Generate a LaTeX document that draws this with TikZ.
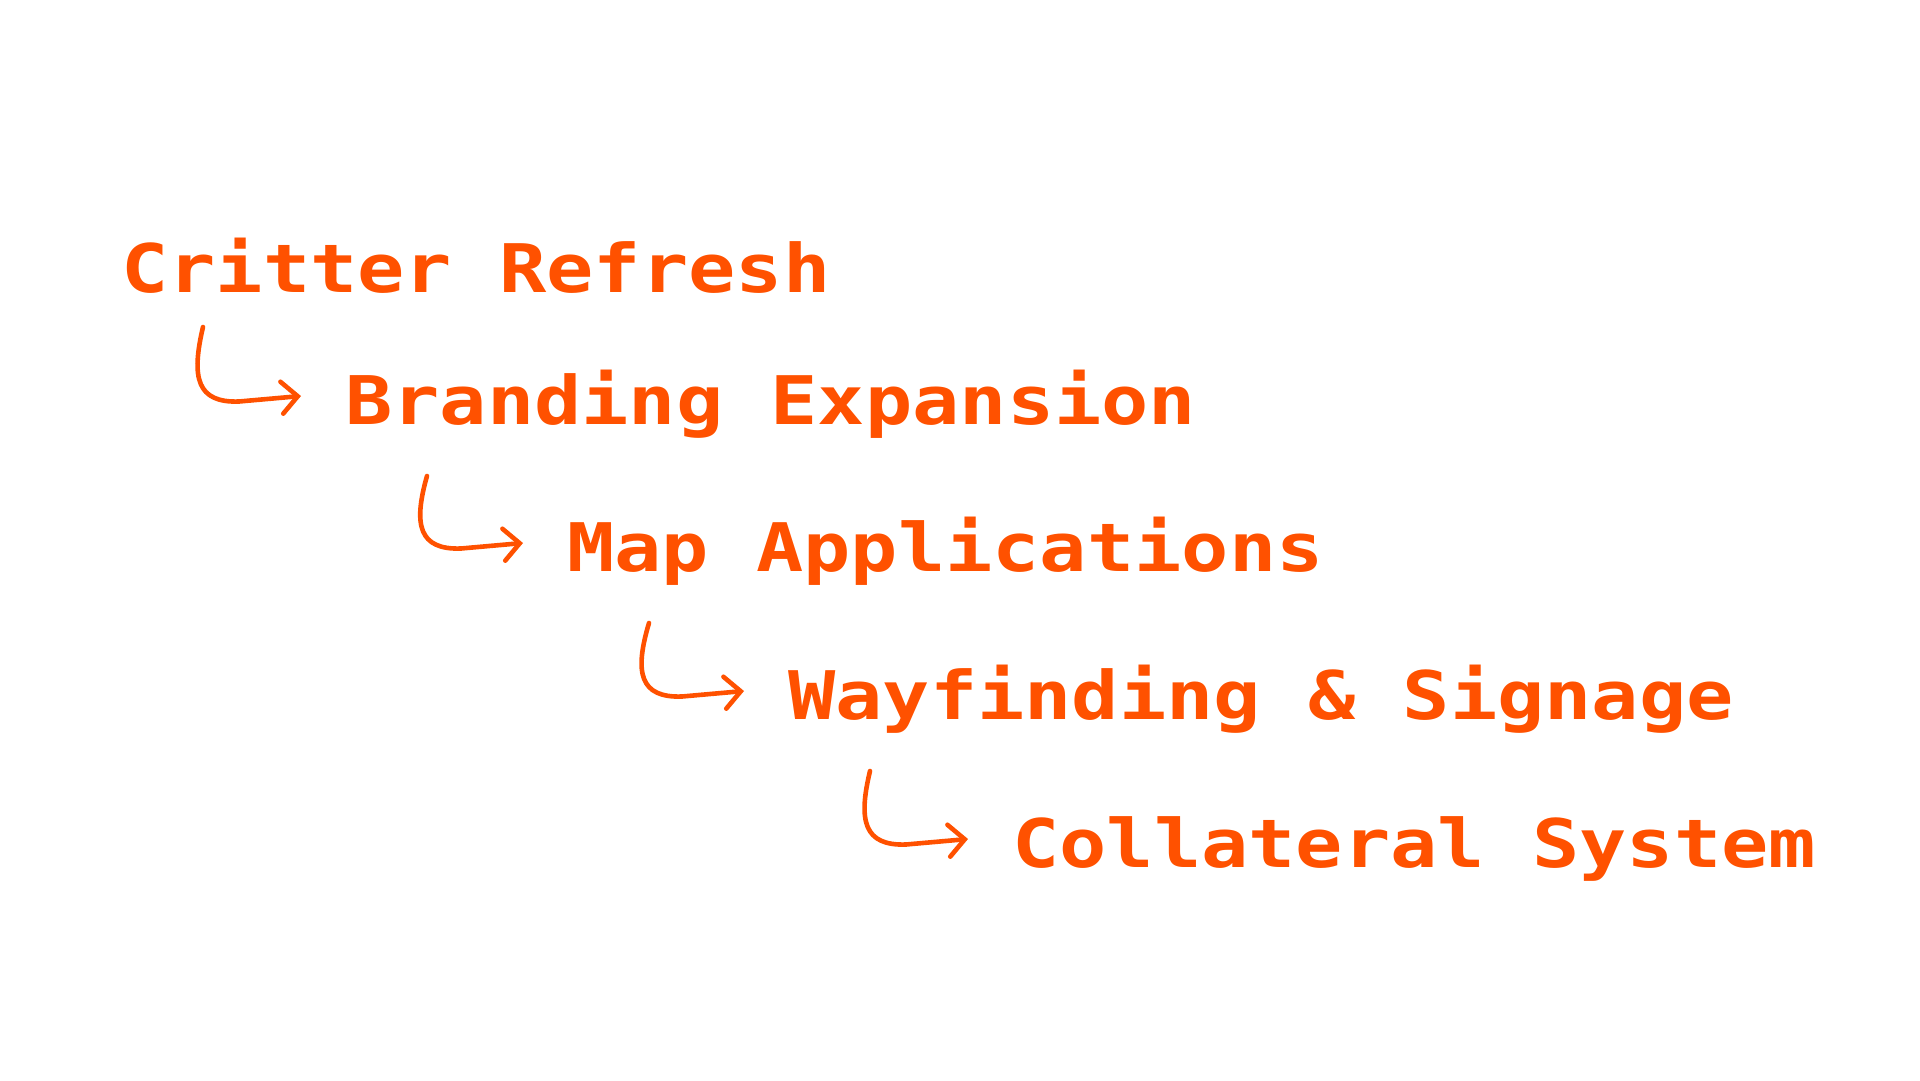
\documentclass[tikz,border=0pt]{standalone}
\usepackage{fontspec}
\usepackage{xcolor}
\usepackage{tikz}
\usetikzlibrary{arrows.meta, positioning}
\newfontfamily\critfont{DejaVu Sans Mono}[FakeStretch=1.172]
\definecolor{critter}{HTML}{FF5100}

\begin{document}
\begin{tikzpicture}[
  x=1pt, y=-1pt,
  item/.style={anchor=base west, inner sep=0pt, text=critter,
               font=\critfont\bfseries\fontsize{67}{67}\selectfont},
  arr/.style={draw=critter, line width=4.6pt, line cap=round, line join=round,
              -{Straight Barb[length=16pt, width=32pt, line cap=round]}},
  hook/.style={to path={.. controls ([shift={(-110,-18)}]\tikztotarget)
                          and ([shift={(-104,7)}]\tikztotarget)
                        .. ([shift={(-62,5.5)}]\tikztotarget) -- (\tikztotarget)}},
]
  \useasboundingbox (0,0) rectangle (1920,1080);

  \node[item] (crit) at (121,292) {Critter Refresh};
  \node[item] (brand) at ([shift={(224,132)}]crit.base west) {Branding Expansion};
  \node[item] (map) at ([shift={(222,147)}]brand.base west) {Map Applications};
  \node[item] (way) at ([shift={(221,148)}]map.base west) {Wayfinding \& Signage};
  \node[item] (coll) at ([shift={(224,148)}]way.base west) {Collateral System};

  \draw[arr] ([shift={(82,35)}]crit.base west) to[hook] ([shift={(-44,-28)}]brand.base west);
  \draw[arr] ([shift={(82,52)}]brand.base west) to[hook] ([shift={(-44,-28)}]map.base west);
  \draw[arr] ([shift={(82,52)}]map.base west) to[hook] ([shift={(-44,-28)}]way.base west);
  \draw[arr] ([shift={(82,52)}]way.base west) to[hook] ([shift={(-44,-28)}]coll.base west);
\end{tikzpicture}
\end{document}
